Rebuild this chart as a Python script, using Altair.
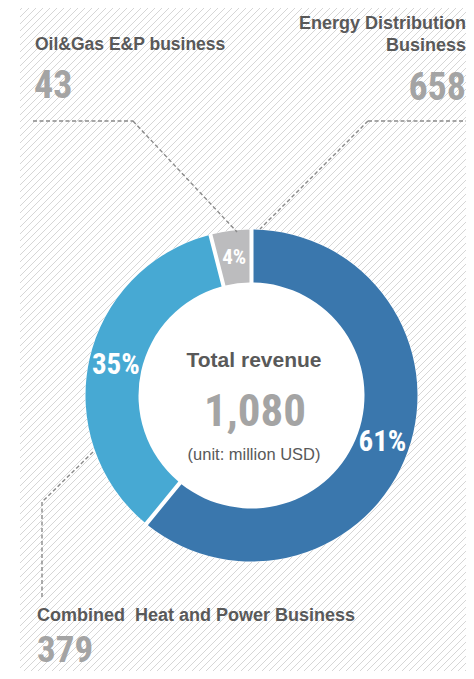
import altair as alt
import pandas as pd

# ---- data ----
segments = ["Energy Distribution Business", "Combined\u00a0 Heat and Power Business", "Oil&Gas E&P business"]
revenue = [658, 379, 43]
shares = [61, 35, 4]
colors = ["#3a77ad", "#47a9d3", "#bcbcbe"]
total_revenue = 1080
center_title = "Total revenue"
center_unit = "(unit: million USD)"

# ---- layout (pixels inside the chart; page = chart + 8) ----
W, H = 458, 663
CX, CY = 243.5, 387.5
R_OUT, R_IN, R_LABEL = 166, 113, 139

LABEL_FONT = "Liberation Sans, Arial, Helvetica, sans-serif"
NUM_FONT = ("Roboto Condensed, Noto Sans Condensed, Open Sans Condensed, DejaVu Sans Condensed, "
            "Liberation Sans Narrow, Arial Narrow, Roboto, sans-serif")
LABEL_COLOR = "#595959"
NUM_COLOR = "#a4a4a4"

df = pd.DataFrame({"segment": segments, "revenue": revenue, "share": shares,
                   "order": list(range(len(segments)))})
df["label"] = df["share"].astype(str) + "%"

xs = alt.Scale(domain=[0, W], nice=False, zero=False)
ys = alt.Scale(domain=[0, H], nice=False, zero=False, reverse=True)

# background hatch (decoration)
hatch = alt.Chart(alt.sequence(0, W + H, 7, as_="c")).transform_calculate(
    x1="max(12, datum.c - %d)" % H, x2="min(%d, datum.c)" % W
).transform_filter("datum.x1 < datum.x2").transform_calculate(
    y1="datum.c - datum.x1", y2="datum.c - datum.x2"
).mark_rule(color="#d6d6d6", strokeWidth=1).encode(
    x=alt.X("x1:Q", scale=xs, axis=None), x2="x2:Q",
    y=alt.Y("y1:Q", scale=ys, axis=None), y2="y2:Q")

# white disc behind ring
disc = alt.Chart(pd.DataFrame({"t": [total_revenue]})).mark_arc(
    radius=R_OUT + 0.5, innerRadius=0, color="white"
).encode(theta=alt.Theta("t:Q", stack=True), x=alt.value(CX), y=alt.value(CY))

base = alt.Chart(df).encode(
    theta=alt.Theta("revenue:Q", stack=True),
    order=alt.Order("order:Q"),
    x=alt.value(CX), y=alt.value(CY))

donut = base.mark_arc(radius=R_OUT, innerRadius=R_IN, padAngle=0.02).encode(
    color=alt.Color("segment:N", scale=alt.Scale(domain=segments, range=colors), legend=None))

pct = base.mark_text(radius=R_LABEL, font=NUM_FONT, fontWeight="bold", color="white",
                     baseline="middle", align="center").encode(
    text="label:N",
    size=alt.condition("datum.share < 10", alt.value(21), alt.value(29)))

# leader lines (annotation)
leaders = [
    (25, 113, 125, 113), (125, 113, 229, 224),
    (360, 113, 458, 113), (360, 113, 252, 221),
    (85, 444, 34, 494), (34, 494, 34, 590),
]
leader_layers = [
    alt.Chart(pd.DataFrame({"k": [0]})).mark_rule(
        color="#8a8a8a", strokeWidth=1.4, strokeDash=[4, 2.5]).encode(
        x=alt.value(a), y=alt.value(b), x2=alt.value(c), y2=alt.value(d))
    for a, b, c, d in leaders
]


def txt(text, x, y, size, color, font, weight="bold", align="left", **kw):
    return alt.Chart(pd.DataFrame({"t": [text]})).mark_text(
        align=align, baseline="alphabetic", font=font, fontSize=size,
        fontWeight=weight, color=color, **kw).encode(
        text="t:N", x=alt.value(x), y=alt.value(y))


energy_name = "Energy Distribution\nBusiness"
texts = [
    txt(segments[2], 27, 42, 17.5, LABEL_COLOR, LABEL_FONT),
    txt(f"{revenue[2]:,}", 26, 90, 38, NUM_COLOR, NUM_FONT),
    txt(energy_name, 458, 21, 18, LABEL_COLOR, LABEL_FONT, align="right",
        lineBreak="\n", lineHeight=22),
    txt(f"{revenue[0]:,}", 458, 92, 38, NUM_COLOR, NUM_FONT, align="right"),
    txt(segments[1], 29, 613, 18, LABEL_COLOR, LABEL_FONT),
    txt(f"{revenue[1]:,}", 29, 654, 37, NUM_COLOR, NUM_FONT),
    txt(center_title, 246, 359, 21, LABEL_COLOR, LABEL_FONT, align="center"),
    txt(f"{total_revenue:,}", 247, 418, 45, NUM_COLOR, NUM_FONT, align="center"),
    txt(center_unit, 246, 452, 16.5, LABEL_COLOR, LABEL_FONT, weight="normal", align="center"),
]

chart = alt.layer(hatch, disc, donut, pct, *leader_layers, *texts).properties(
    width=W, height=H, padding=0, autosize=alt.AutoSizeParams(type="none")
).configure_view(stroke=None)

chart.save("out.html", embed_options={"renderer": "svg", "actions": False})
